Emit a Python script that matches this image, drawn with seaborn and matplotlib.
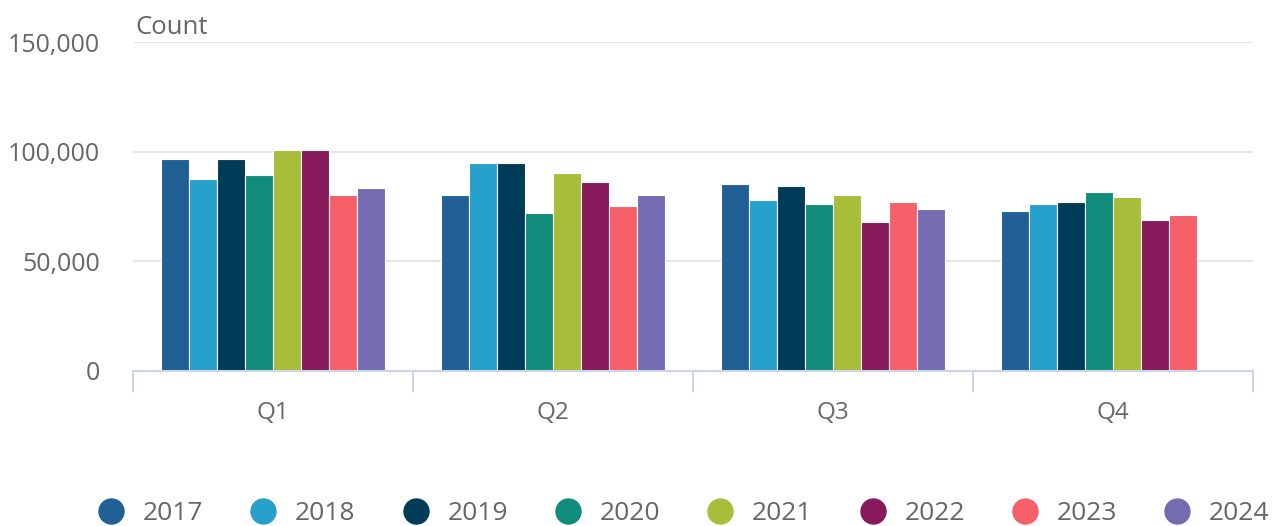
import pandas as pd
import numpy as np
import seaborn as sns
import matplotlib.pyplot as plt
from matplotlib.lines import Line2D
from matplotlib.ticker import FuncFormatter

quarters = ["Q1", "Q2", "Q3", "Q4"]
years = ["2017", "2018", "2019", "2020", "2021", "2022", "2023", "2024"]

# counts per year, one value per quarter (2024 Q4 not yet available)
v2017 = [96600, 80300, 85500, 73100]
v2018 = [87500, 94800, 78100, 76200]
v2019 = [96600, 94800, 84400, 77200]
v2020 = [89400, 72200, 76200, 81400]
v2021 = [100800, 90500, 80300, 79200]
v2022 = [100800, 86400, 68100, 69000]
v2023 = [80300, 75100, 77200, 71000]
v2024 = [83300, 80300, 74000, np.nan]

colors = ["#206095", "#27a0cc", "#003c57", "#118c7b",
          "#a8bd3a", "#871a5b", "#f66068", "#746cb1"]

rows = []
for yr, vals in zip(years, [v2017, v2018, v2019, v2020, v2021, v2022, v2023, v2024]):
    for q, v in zip(quarters, vals):
        rows.append({"quarter": q, "year": yr, "count": v})
df = pd.DataFrame(rows)

sns.set_style("white")
plt.rcParams['font.family'] = ['Open Sans', 'DejaVu Sans']
txt = "#666666"

fig = plt.figure(figsize=(12.8, 5.26), dpi=100)
ax = fig.add_axes([133/1280, 1 - 370.7/526, 1120/1280, (370.7 - 42.3)/526])

sns.barplot(data=df, x="quarter", y="count", hue="year", order=quarters,
            hue_order=years, palette=colors, saturation=1, width=0.8, ax=ax,
            edgecolor="white", linewidth=0.8, legend=False)

ax.set_ylim(0, 150000)
ax.set_xlim(-0.5, 3.5)
ax.set_yticks([0, 50000, 100000, 150000])
ax.yaxis.set_major_formatter(FuncFormatter(lambda v, p: f"{int(v):,}"))
ax.grid(axis="y", color="#e6e6e6", linewidth=1.5)
ax.set_axisbelow(True)
for s in ["top", "right", "left"]:
    ax.spines[s].set_visible(False)
ax.spines["bottom"].set_color("#ccd6eb")
ax.spines["bottom"].set_linewidth(1.5)

ax.set_xlabel("")
ax.set_ylabel("")
ax.tick_params(axis="y", length=0, pad=24, labelsize=18, labelcolor=txt)
ax.tick_params(axis="x", which="major", bottom=False, length=0, pad=22,
               labelsize=17.5, labelcolor=txt)
ax.set_xticks([-0.5, 0.5, 1.5, 2.5, 3.5], minor=True)
ax.tick_params(axis="x", which="minor", bottom=True, length=15, width=1.5,
               color="#ccd6eb")

fig.text(135/1280, 1 - 27/526, "Count", color=txt, fontsize=18.5,
         va="center", ha="left")

handles = [Line2D([0], [0], marker="o", linestyle="", markersize=18,
                  markerfacecolor=c, markeredgecolor=c) for c in colors]
fig.legend(handles, years, loc="center", bbox_to_anchor=(0.533, 1 - 514/526),
           ncol=8, frameon=False, fontsize=19, labelcolor=txt,
           handletextpad=0.6, columnspacing=1.68, handlelength=1.2)

fig.savefig("out.png", dpi=100)
